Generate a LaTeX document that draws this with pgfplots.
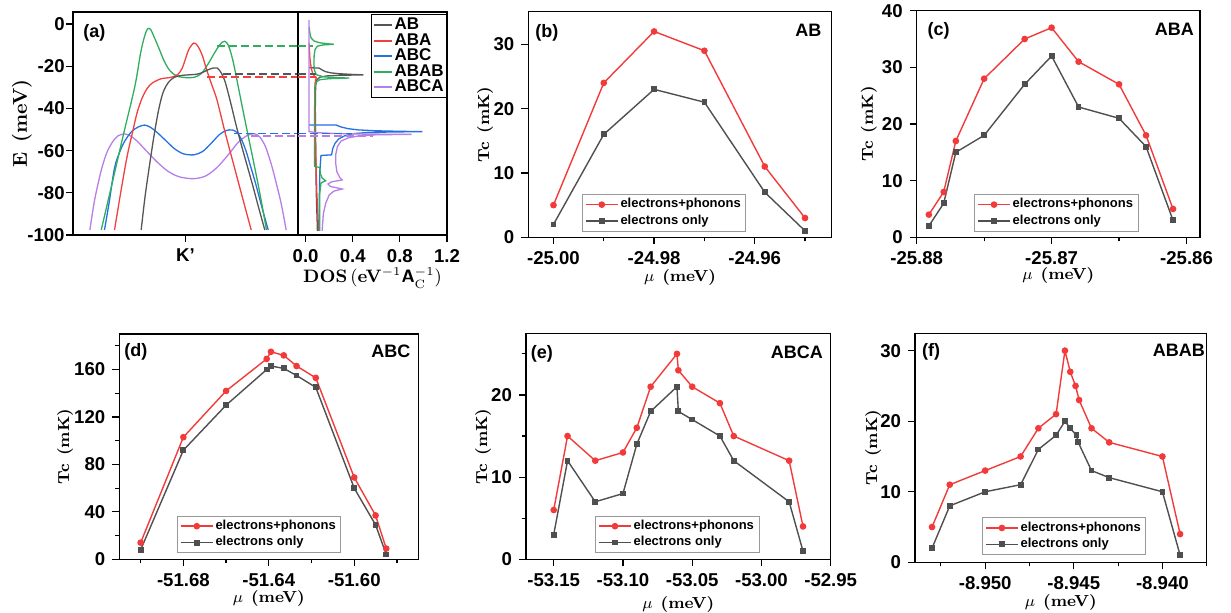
\documentclass[border=0pt]{standalone}
\usepackage{fontspec}
\usepackage{pgfplots}
\pgfplotsset{compat=1.18}
\newfontfamily\arial{Liberation Sans}
\definecolor{cRed}{HTML}{F23A3A}
\definecolor{cGray}{HTML}{4F4F4F}
\definecolor{cAB}{HTML}{555555}
\definecolor{cABA}{HTML}{F24040}
\definecolor{cABC}{HTML}{2472E0}
\definecolor{cABAB}{HTML}{2EAE5E}
\definecolor{cABCA}{HTML}{B77EE6}
\newcommand\tfont{\arial\bfseries\fontsize{9.3}{10}\selectfont}
\tikzset{
  lbl/.style={anchor=north west, inner sep=0pt, font=\arial\bfseries\fontsize{9}{10}\selectfont},
  lblr/.style={anchor=north east, inner sep=0pt, font=\arial\bfseries\fontsize{9}{10}\selectfont},
}
\pgfplotsset{
  common/.style={
    scale only axis, anchor=south west,
    tick align=outside, xtick pos=bottom, ytick pos=left,
    major tick length=3.5pt, minor tick length=2pt,
    tick style={black, line width=0.6pt},
    tick label style={font=\tfont},
    /pgf/number format/assume math mode=true,
  },
  tcpanel/.style={
    common,
    axis line style={line width=0.65pt},
    xlabel={$\mu$\enspace\textbf{(meV)}},
    ylabel={\textbf{Tc\enspace(mK)}},
    label style={font=\fontsize{8}{9}\selectfont},
    legend style={anchor=south west, font=\arial\bfseries\fontsize{6.5}{7.5}\selectfont,
      draw=gray!80, line width=0.4pt, inner xsep=1.5pt, inner ysep=1pt, row sep=0pt,
      nodes={inner sep=1pt}, cells={anchor=west}},
    legend image code/.code={\draw[mark repeat=2,mark phase=2,##1] plot coordinates {(0pt,0pt) (8pt,0pt) (16pt,0pt)};},
  },
  xl/.style={xlabel style={at={(rel axis cs:0.5,#1)}, anchor=center}},
  yl/.style={ylabel style={at={(rel axis cs:#1,0.5)}, anchor=center}},
  ep/.style={color=cRed, line width=0.7pt, mark=*, mark size=1.3pt, mark options={solid, fill=cRed}},
  eo/.style={color=cGray, line width=0.7pt, mark=square*, mark size=1.1pt, mark options={solid, fill=cGray}},
  band/.style={line width=0.65pt, smooth, tension=0.5},
  dosl/.style={line width=0.65pt},
  dsh/.style={line width=0.75pt, dash pattern=on 4pt off 2pt},
}
\begin{document}
\begin{tikzpicture}
\useasboundingbox (0,0) rectangle (615.5pt,306pt);
% ---------------- (a) band structure
\begin{axis}[common, at={(36.5pt,188.5pt)}, width=112.5pt, height=111.5pt,
  axis line style={line width=1pt},
  xmin=-1, xmax=1, ymin=-100, ymax=5.7,
  xtick={0}, xticklabels={K’}, ytick={-100,-80,...,0},
  yticklabel style={inner sep=0.5pt},
  ylabel={\textbf{E\enspace(meV)}}, ylabel style={font=\fontsize{10}{12}\selectfont}, yl=-0.227]
\addplot[band, cABCA] coordinates {(-0.85,-97.6) (-0.81,-84) (-0.77,-74) (-0.74,-67.6) (-0.70,-61) (-0.65,-56) (-0.60,-53) (-0.542,-52.1) (-0.49,-53) (-0.43,-55.5) (-0.35,-60) (-0.25,-65.5) (-0.15,-70) (-0.05,-72.5) (0.074,-73.3) (0.18,-72) (0.28,-68) (0.38,-62) (0.47,-56) (0.55,-52.8) (0.613,-52) (0.66,-53.5) (0.71,-58) (0.76,-66) (0.80,-74) (0.85,-85) (0.895,-97.6)};
\addplot[band, cABC] coordinates {(-0.72,-97.6) (-0.68,-85) (-0.63,-68) (-0.58,-60) (-0.54,-55.5) (-0.48,-51) (-0.42,-48.8) (-0.364,-47.9) (-0.31,-49) (-0.25,-51.5) (-0.18,-55) (-0.1,-59) (-0.02,-61.5) (0.074,-62) (0.15,-60.5) (0.22,-57) (0.3,-52.5) (0.36,-50.5) (0.415,-50.2) (0.46,-51.5) (0.5,-55) (0.54,-60.5) (0.576,-67) (0.62,-75) (0.68,-87) (0.735,-97.6)};
\addplot[band, cABAB] coordinates {(-0.749,-97.6) (-0.65,-75) (-0.55,-52) (-0.45,-29.5) (-0.40,-14) (-0.37,-7) (-0.345,-3) (-0.326,-2) (-0.305,-3) (-0.28,-6) (-0.24,-11) (-0.19,-17.5) (-0.14,-22) (-0.08,-24.6) (0,-25.4) (0.08,-25.2) (0.14,-23.5) (0.2,-19) (0.26,-13.5) (0.31,-9.5) (0.347,-8.2) (0.38,-10) (0.42,-17) (0.47,-30) (0.53,-46) (0.6,-64) (0.66,-80) (0.72,-97.6)};
\addplot[band, cABA] coordinates {(-0.631,-97.6) (-0.57,-78) (-0.52,-63) (-0.473,-51.8) (-0.43,-42) (-0.385,-35) (-0.34,-30.5) (-0.296,-28) (-0.22,-26) (-0.133,-25.3) (-0.07,-24) (-0.03,-21) (0,-16.5) (0.03,-12) (0.074,-9) (0.11,-10.5) (0.15,-15) (0.19,-22) (0.235,-29) (0.28,-36) (0.35,-51) (0.43,-67) (0.51,-83) (0.584,-97.6)};
\addplot[band, cAB] coordinates {(-0.394,-97.6) (-0.36,-82) (-0.32,-67) (-0.28,-53) (-0.24,-41) (-0.20,-32.5) (-0.15,-27.5) (-0.1,-25.3) (-0.05,-24.5) (0,-24.2) (0.05,-24) (0.1,-23.8) (0.15,-23) (0.2,-21.7) (0.25,-20.8) (0.28,-20.8) (0.31,-22.5) (0.35,-27) (0.40,-37) (0.45,-48) (0.5,-58) (0.55,-67.5) (0.6,-77) (0.65,-87) (0.705,-97.6)};
\addplot[dsh, cABAB] coordinates {(0.28,-10.3) (1,-10.3)};
\addplot[dsh, cAB] coordinates {(0.33,-23.7) (1,-23.7)};
\addplot[dsh, cABA] coordinates {(0.19,-25.1) (1,-25.1)};
\addplot[dsh, cABC] coordinates {(0.43,-51.8) (1,-51.8)};
\addplot[dsh, cABCA] coordinates {(0.58,-53.1) (1,-53.1)};
\node[lbl] at (rel axis cs:0.044,0.945) {(a)};
\end{axis}
% ---------------- (a) DOS
\begin{axis}[common, at={(149pt,188.5pt)}, width=74.5pt, height=111.5pt,
  axis line style={line width=1pt},
  xmin=-0.065, xmax=1.2, ymin=-100, ymax=5.7,
  ytick=\empty, xtick={0,0.4,0.8,1.2}, xticklabels={0.0,0.4,0.8,1.2},
  xlabel={\textbf{DOS}\,(\textbf{eV}$^{-1}$\textsf{\textbf{A}}$_{\mathrm{C}}^{-1}$)},
  xlabel style={font=\fontsize{9}{10}\selectfont}, xl=-0.193,
  legend style={at={(rel axis cs:0.49,0.99)}, anchor=north west, font=\arial\bfseries\fontsize{8.5}{9}\selectfont,
     draw=black, line width=0.6pt, inner xsep=0.5pt, inner ysep=0.5pt, row sep=-1.6pt,
     nodes={inner sep=1pt}, cells={anchor=west}},
  legend image code/.code={\draw[#1, line width=1pt] (0pt,0pt) -- (9pt,0pt);}]
\addplot[dosl, cAB] coordinates {(0.03,-20.7) (0.115,-20.9) (0.14,-21.8) (0.17,-22.6) (0.22,-23.2) (0.30,-23.6) (0.40,-23.9) (0.49,-24.1) (0.30,-24.3) (0.18,-24.6) (0.12,-25.2) (0.095,-26.5) (0.085,-29) (0.082,-40) (0.085,-60) (0.09,-80) (0.1,-98)};
\addlegendentry{AB}
\addplot[dosl, cABA] coordinates {(0.03,-9) (0.032,-12) (0.036,-16) (0.042,-19) (0.05,-21.5) (0.06,-23.5) (0.075,-24.8) (0.09,-25.3) (0.085,-26.5) (0.08,-28) (0.08,-40) (0.085,-60) (0.095,-80) (0.11,-98)};
\addlegendentry{ABA}
\addplot[dosl, cABC] coordinates {(0.03,-47.9) (0.26,-47.9) (0.30,-48.8) (0.36,-49.6) (0.45,-50.2) (0.6,-50.6) (0.8,-50.85) (0.99,-51.0) (0.7,-51.2) (0.5,-51.5) (0.4,-52) (0.33,-53) (0.28,-54.5) (0.25,-56.5) (0.23,-59) (0.22,-62) (0.13,-62.3) (0.12,-70) (0.115,-85) (0.115,-98)};
\addlegendentry{ABC}
\addplot[dosl, cABAB] coordinates {(0.03,-1.5) (0.035,-4) (0.045,-6.5) (0.07,-8) (0.12,-8.9) (0.18,-9.3) (0.24,-9.6) (0.15,-9.9) (0.10,-10.5) (0.08,-12) (0.072,-15) (0.07,-19) (0.075,-22) (0.09,-24) (0.15,-25) (0.25,-25.4) (0.37,-25.6) (0.2,-25.9) (0.12,-26.4) (0.09,-27.5) (0.078,-30) (0.075,-45) (0.075,-67.5) (0.12,-68) (0.125,-71) (0.14,-73) (0.17,-74.3) (0.13,-75.3) (0.12,-80) (0.12,-98)};
\addlegendentry{ABAB}
\addplot[dosl, cABCA] coordinates {(0.028,2) (0.028,-51) (0.1,-51.5) (0.25,-51.9) (0.5,-52.15) (0.90,-52.3) (0.6,-52.5) (0.45,-53) (0.36,-54) (0.3,-55.5) (0.27,-58) (0.255,-62) (0.255,-66) (0.265,-70) (0.29,-72.8) (0.31,-73.9) (0.22,-74.8) (0.19,-75.8) (0.21,-77) (0.31,-78.2) (0.24,-79.2) (0.2,-81) (0.17,-85) (0.15,-90) (0.14,-98)};
\addlegendentry{ABCA}
\addplot[dsh, cABAB, forget plot] coordinates {(-0.065,-10.3) (0.06,-10.3)};
\addplot[dsh, cAB, forget plot] coordinates {(-0.065,-23.7) (0.09,-23.7)};
\addplot[dsh, cABA, forget plot] coordinates {(-0.065,-25.1) (0.09,-25.1)};
\addplot[dsh, cABC, forget plot] coordinates {(-0.065,-51.8) (0.39,-51.8)};
\addplot[dsh, cABCA, forget plot] coordinates {(-0.065,-53.1) (0.57,-53.1)};
\end{axis}
% ---------------- (b) AB
\begin{axis}[tcpanel, at={(264.15pt,187.35pt)}, width=151.7pt, height=112.8pt,
  xl=-0.176, yl=-0.142,
  xmin=-25.005, xmax=-24.9447, ymin=0, ymax=35.07,
  xtick={-25,-24.98,-24.96}, xticklabels={-25.00,-24.98,-24.96},
  minor xtick={-24.99,-24.97,-24.95}, ytick={0,10,20,30},
  legend style={at={(rel axis cs:0.176,0.025)}}]
\addplot[ep] coordinates {(-25.00,5) (-24.99,24) (-24.98,32) (-24.97,29) (-24.958,11) (-24.95,3)};
\addlegendentry{electrons+phonons}
\addplot[eo] coordinates {(-25.00,2) (-24.99,16) (-24.98,23) (-24.97,21) (-24.958,7) (-24.95,1)};
\addlegendentry{electrons only}
\node[lbl] at (rel axis cs:0.022,0.945) {(b)};
\node[lblr] at (rel axis cs:0.967,0.945) {AB};
\end{axis}
% ---------------- (c) ABA
\begin{axis}[tcpanel, at={(458.35pt,187.35pt)}, width=141.65pt, height=113.3pt,
  xl=-0.17, yl=-0.169,
  xmin=-25.88, xmax=-25.859, ymin=0, ymax=40,
  xtick={-25.88,-25.87,-25.86}, xticklabels={-25.88,-25.87,-25.86},
  minor xtick={-25.875,-25.865}, ytick={0,10,20,30,40},
  legend style={at={(rel axis cs:0.202,0.025)}}]
\addplot[ep] coordinates {(-25.8791,4) (-25.8780,8) (-25.8771,17) (-25.8750,28) (-25.8720,35) (-25.8700,37) (-25.8680,31) (-25.8650,27) (-25.8630,18) (-25.8610,5)};
\addlegendentry{electrons+phonons}
\addplot[eo] coordinates {(-25.8791,2) (-25.8780,6) (-25.8771,15) (-25.8750,18) (-25.8720,27) (-25.8700,32) (-25.8680,23) (-25.8650,21) (-25.8630,16) (-25.8610,3)};
\addlegendentry{electrons only}
\node[lbl] at (rel axis cs:0.037,0.951) {(c)};
\node[lblr] at (rel axis cs:0.98,0.945) {ABA};
\end{axis}
% ---------------- (d) ABC
\begin{axis}[tcpanel, at={(59.65pt,26.35pt)}, width=149.5pt, height=112.65pt,
  xl=-0.175, yl=-0.181,
  xmin=-51.71, xmax=-51.57, ymin=0, ymax=190,
  xtick={-51.68,-51.64,-51.60}, xticklabels={-51.68,-51.64,-51.60},
  minor xtick={-51.70,-51.66,-51.62,-51.58}, ytick={0,40,80,120,160},
  minor ytick={20,60,100,140,180},
  legend style={at={(rel axis cs:0.192,0.027)}}]
\addplot[ep] coordinates {(-51.70,14) (-51.68,103) (-51.66,142) (-51.641,169) (-51.639,175) (-51.633,172) (-51.627,163) (-51.618,153) (-51.600,69) (-51.590,37) (-51.585,9)};
\addlegendentry{electrons+phonons}
\addplot[eo] coordinates {(-51.70,8) (-51.68,92) (-51.66,130) (-51.641,160) (-51.639,163) (-51.633,161) (-51.627,155) (-51.618,145) (-51.600,60) (-51.590,29) (-51.585,4)};
\addlegendentry{electrons only}
\node[lbl] at (rel axis cs:0.016,0.96) {(d)};
\node[lblr] at (rel axis cs:0.975,0.955) {ABC};
\end{axis}
% ---------------- (e) ABCA
\begin{axis}[tcpanel, at={(263pt,26.35pt)}, width=152.35pt, height=113pt,
  xl=-0.198, yl=-0.141,
  xmin=-53.17, xmax=-52.95, ymin=0, ymax=27.5,
  xtick={-53.15,-53.10,-53.05,-53.00,-52.95}, xticklabels={-53.15,-53.10,-53.05,-53.00,-52.95},
  ytick={0,10,20}, minor ytick={5,15,25},
  legend style={at={(rel axis cs:0.226,0.027)}}]
\addplot[ep] coordinates {(-53.15,6) (-53.14,15) (-53.12,12) (-53.10,13) (-53.09,16) (-53.08,21) (-53.061,25) (-53.060,23) (-53.05,21) (-53.03,19) (-53.02,15) (-52.98,12) (-52.97,4)};
\addlegendentry{electrons+phonons}
\addplot[eo] coordinates {(-53.15,3) (-53.14,12) (-53.12,7) (-53.10,8) (-53.09,14) (-53.08,18) (-53.061,21) (-53.060,18) (-53.05,17) (-53.03,15) (-53.02,12) (-52.98,7) (-52.97,1)};
\addlegendentry{electrons only}
\node[lbl] at (rel axis cs:0.015,0.948) {(e)};
\node[lblr] at (rel axis cs:0.976,0.948) {ABCA};
\end{axis}
% ---------------- (f) ABAB
\begin{axis}[tcpanel, at={(457.5pt,24.85pt)}, width=145.85pt, height=114.5pt,
  xl=-0.176, yl=-0.144,
  xmin=-8.95396, xmax=-8.9375, ymin=0, ymax=32.46,
  xtick={-8.950,-8.945,-8.940}, xticklabels={-8.950,-8.945,-8.940},
  minor xtick={-8.9525,-8.9475,-8.9425,-8.9375}, ytick={0,10,20,30},
  legend style={at={(rel axis cs:0.229,0.032)}}]
\addplot[ep] coordinates {(-8.953,5) (-8.952,11) (-8.950,13) (-8.948,15) (-8.947,19) (-8.946,21) (-8.9455,30) (-8.9452,27) (-8.9449,25) (-8.9447,23) (-8.944,19) (-8.943,17) (-8.940,15) (-8.939,4)};
\addlegendentry{electrons+phonons}
\addplot[eo] coordinates {(-8.953,2) (-8.952,8) (-8.950,10) (-8.948,11) (-8.947,16) (-8.946,18) (-8.9455,20) (-8.9452,19) (-8.94485,18) (-8.94475,17) (-8.944,13) (-8.943,12) (-8.940,10) (-8.939,1)};
\addlegendentry{electrons only}
\node[lbl] at (rel axis cs:0.023,0.956) {(f)};
\node[lblr] at (rel axis cs:0.995,0.956) {ABAB};
\end{axis}
\end{tikzpicture}
\end{document}
